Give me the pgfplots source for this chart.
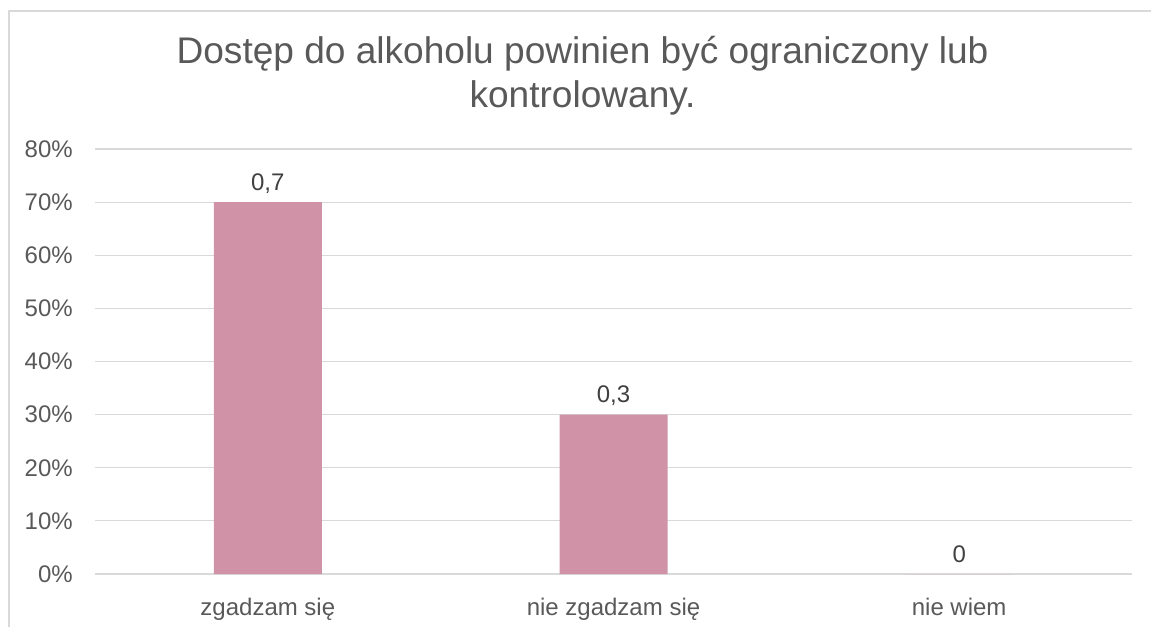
\documentclass[border=0pt]{standalone}
\usepackage{fontspec}
\setmainfont{Liberation Sans}
\usepackage{pgfplots}
\pgfplotsset{compat=1.18}

\definecolor{txt}{HTML}{595959}
\definecolor{lbl}{HTML}{404040}
\definecolor{gridc}{HTML}{D9D9D9}
\definecolor{barc}{HTML}{D092A7}

\begin{document}
\begin{tikzpicture}
% page: 1151 x 626 px, 1px = 0.75pt
\useasboundingbox (0,0) rectangle (863.25pt,469.5pt);
\draw[gridc, line width=0.9pt] (6.75pt,-5pt) -- (6.75pt,461.25pt) -- (880pt,461.25pt);

\node[anchor=base, text=txt, font=\fontsize{27.8}{32}\selectfont] at (436.9pt,421.5pt)
  {Dostęp do alkoholu powinien być ograniczony lub};
\node[anchor=base, text=txt, font=\fontsize{27.8}{32}\selectfont] at (436.9pt,388.5pt)
  {kontrolowany.};

\begin{axis}[
  at={(71.25pt,39pt)}, anchor=south west,
  scale only axis,
  width=777.75pt, height=318.75pt,
  xmin=-0.5, xmax=2.5,
  ymin=0, ymax=0.8,
  ybar, bar width=81pt,
  axis line style={draw=none},
  tick style={draw=none},
  xtick={0,1,2},
  xticklabels={zgadzam się, nie zgadzam się, nie wiem},
  ytick={0,0.1,0.2,0.3,0.4,0.5,0.6,0.7,0.8},
  yticklabels={0\%,10\%,20\%,30\%,40\%,50\%,60\%,70\%,80\%},
  ymajorgrids,
  grid style={gridc, line width=0.9pt},
  tick label style={text=txt, font=\fontsize{18}{21.6}\selectfont},
  yticklabel style={anchor=east, inner sep=0pt, xshift=-16.5pt},
  xticklabel style={anchor=base, inner sep=0pt, yshift=-27pt},
  /pgf/number format/use comma,
  /pgf/number format/assume math mode=true,
  nodes near coords,
  every node near coord/.append style={anchor=base, inner sep=0pt, yshift=9pt,
    text=lbl, font=\fontsize{18}{21.6}\selectfont},
]
\addplot[fill=barc, draw=none] coordinates {(0,0.7) (1,0.3) (2,0)};
\end{axis}
\end{tikzpicture}
\end{document}
